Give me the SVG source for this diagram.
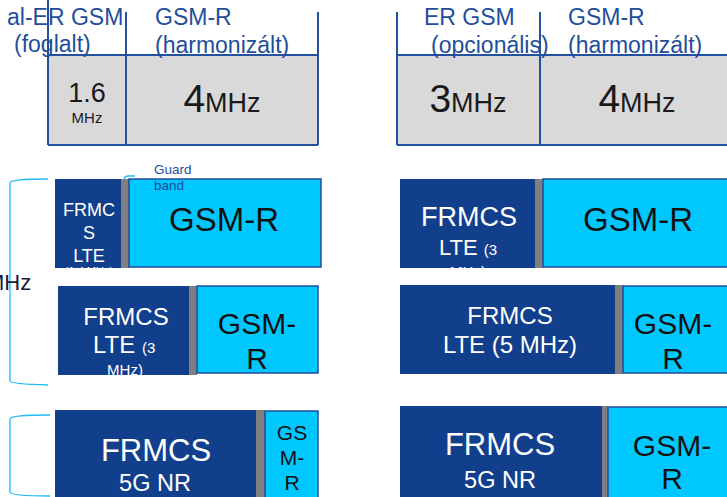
<svg xmlns="http://www.w3.org/2000/svg" width="727" height="497" viewBox="0 0 727 497">
<style>
text{font-family:"Liberation Sans",Arial,sans-serif}
.hdr{fill:#1F4E9A;font-size:23px}
.gray{fill:#D9D9D9;stroke:none}
.ln{stroke:#2450A0;stroke-width:2;fill:none}
.dk{fill:#123F8C}
.cy{fill:#00C8FF;stroke:#1F4E9A;stroke-width:1.5}
.gb{fill:#7F7F7F}
.wt{fill:#FFFFFF;text-anchor:middle}
.bk{fill:#111111;text-anchor:middle}
.brace{stroke:#1EBCF0;stroke-width:1.3;fill:none}
</style>
<defs>
<clipPath id="c1"><rect x="55" y="179" width="66" height="89"/></clipPath>
<clipPath id="c2"><rect x="400" y="179" width="135" height="89"/></clipPath>
<clipPath id="c3"><rect x="58" y="286" width="131" height="90"/></clipPath>
</defs>

<g id="top-left">
<rect class="gray" x="48" y="55" width="270" height="90"/>
<path class="ln" d="M48 0V145M126 12V145M318 12V145M48 55H318M48 145H318"/>
<text class="hdr" x="7" y="25">al-ER GSM</text>
<text class="hdr" x="14" y="52">(foglalt)</text>
<text class="hdr" x="155" y="25">GSM-R</text>
<text class="hdr" x="155" y="53">(harmonizált)</text>
<text x="87" y="102" style="fill:#1a1a1a;font-size:27px;text-anchor:middle">1.6</text>
<text x="87" y="123" style="fill:#1a1a1a;font-size:15px;text-anchor:middle">MHz</text>
<text x="222" y="112" style="fill:#1a1a1a;text-anchor:middle"><tspan style="font-size:39px">4</tspan><tspan style="font-size:27px">MHz</tspan></text>
</g>

<g id="top-right">
<rect class="gray" x="397" y="55" width="330" height="90"/>
<path class="ln" d="M397 12V145M540 12V145M397 55H727M397 145H727"/>
<text class="hdr" x="424" y="25">ER GSM</text>
<text class="hdr" x="431" y="53">(opcionális)</text>
<text class="hdr" x="568" y="25">GSM-R</text>
<text class="hdr" x="568" y="53">(harmonizált)</text>
<text x="468" y="112" style="fill:#1a1a1a;text-anchor:middle"><tspan style="font-size:39px">3</tspan><tspan style="font-size:27px">MHz</tspan></text>
<text x="637" y="112" style="fill:#1a1a1a;text-anchor:middle"><tspan style="font-size:39px">4</tspan><tspan style="font-size:27px">MHz</tspan></text>
</g>

<g id="braces">
<path class="brace" d="M48 179Q10 179 10 183V381Q10 384 48 385"/>
<path class="brace" d="M50 415Q10 415 10 419V492Q10 496 50 496"/>
<path class="brace" d="M124 179Q125 176 128 176H135"/>
<text x="-14" y="290" style="fill:#1a1a3a;font-size:22px">MHz</text>
</g>

<g id="row1-left">
<rect class="dk" x="55" y="179" width="66" height="89"/>
<rect class="gb" x="121" y="179" width="8" height="89"/>
<rect class="cy" x="129" y="179" width="192" height="88"/>
<g clip-path="url(#c1)">
<text class="wt" x="89" y="216" style="font-size:18px">FRMC</text>
<text class="wt" x="89" y="239" style="font-size:18px">S</text>
<text class="wt" x="89" y="262" style="font-size:18px">LTE</text>
<text class="wt" x="89" y="275" style="font-size:11px">(1.4 MHz)</text>
</g>
<text class="bk" x="224" y="231" style="font-size:33px">GSM-R</text>
<text x="154" y="174" style="fill:#1F4E9A;font-size:13.5px">Guard</text>
<text x="154" y="190" style="fill:#1F4E9A;font-size:13.5px">band</text>
</g>

<g id="row1-right">
<rect class="dk" x="400" y="179" width="135" height="89"/>
<rect class="gb" x="535" y="179" width="8" height="89"/>
<rect class="cy" x="543" y="179" width="190" height="88"/>
<g clip-path="url(#c2)">
<text class="wt" x="469" y="226" style="font-size:27px">FRMCS</text>
<text x="439" y="255" style="fill:#fff;font-size:22px">LTE <tspan style="font-size:15px">(3</tspan></text>
<text class="wt" x="468" y="277" style="font-size:15px">MHz)</text>
</g>
<text class="bk" x="638" y="231" style="font-size:33px">GSM-R</text>
</g>

<g id="row2-left">
<rect class="dk" x="58" y="286" width="131" height="89"/>
<rect class="gb" x="189" y="286" width="8" height="89"/>
<rect class="cy" x="197" y="286" width="121" height="87"/>
<g clip-path="url(#c3)">
<text class="wt" x="126" y="325" style="font-size:24px">FRMCS</text>
<text x="93" y="353" style="fill:#fff;font-size:24px">LTE <tspan style="font-size:15px">(3</tspan></text>
<text class="wt" x="125" y="375" style="font-size:15px">MHz)</text>
</g>
<text class="bk" x="257" y="334" style="font-size:30px">GSM-</text>
<text class="bk" x="257" y="369" style="font-size:30px">R</text>
</g>

<g id="row2-right">
<rect class="dk" x="400" y="285" width="215" height="89"/>
<rect class="gb" x="615" y="285" width="8" height="89"/>
<rect class="cy" x="623" y="286" width="110" height="87"/>
<text class="wt" x="510" y="324" style="font-size:24px">FRMCS</text>
<text class="wt" x="510" y="353" style="font-size:24px">LTE (5 MHz)</text>
<text class="bk" x="673" y="334" style="font-size:30px">GSM-</text>
<text class="bk" x="673" y="369" style="font-size:30px">R</text>
</g>

<g id="row3-left">
<rect class="dk" x="55" y="410" width="201" height="90"/>
<rect class="gb" x="256" y="410" width="9" height="90"/>
<rect class="cy" x="265" y="411" width="53" height="90"/>
<text class="wt" x="156" y="461" style="font-size:31px">FRMCS</text>
<text class="wt" x="155" y="491" style="font-size:23.5px">5G NR</text>
<text class="bk" x="292" y="440" style="font-size:21px">GS</text>
<text class="bk" x="292" y="465" style="font-size:21px">M-</text>
<text class="bk" x="292" y="490" style="font-size:21px">R</text>
</g>

<g id="row3-right">
<rect class="dk" x="400" y="406" width="202" height="94"/>
<rect class="gb" x="602" y="406" width="6" height="94"/>
<rect class="cy" x="608" y="407" width="125" height="94"/>
<text class="wt" x="500" y="455" style="font-size:31px">FRMCS</text>
<text class="wt" x="500" y="488" style="font-size:23.5px">5G NR</text>
<text class="bk" x="672" y="456" style="font-size:30px">GSM-</text>
<text class="bk" x="672" y="489" style="font-size:30px">R</text>
</g>
</svg>
